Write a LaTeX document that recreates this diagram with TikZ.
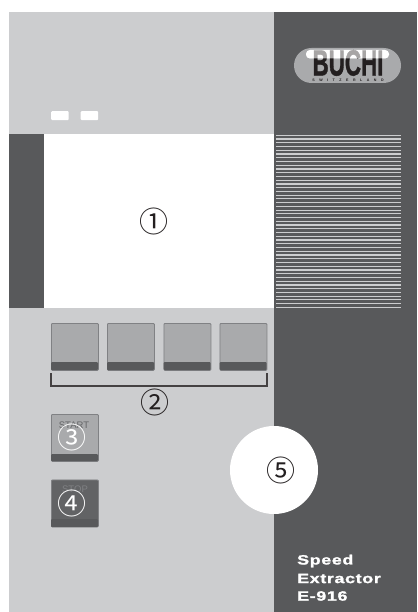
\documentclass[tikz,border=0pt]{standalone}
\usepackage{fontspec}
\setmainfont{Liberation Sans}
\newfontfamily\numfont{Noto Sans CJK JP}
\newfontfamily\widefont[LetterSpace=5,FakeStretch=1.32,FakeBold=1.6]{Liberation Sans Bold}
\newfontfamily\logofont[FakeBold=1.5]{Liberation Sans Bold}
\definecolor{panelL}{HTML}{CCCDCF}
\definecolor{panelD}{HTML}{58595B}
\definecolor{btn}{HTML}{A9AAAC}
\definecolor{btnD}{HTML}{626365}
\definecolor{btnE}{HTML}{808184}
\definecolor{ink}{HTML}{231F20}
\tikzset{
  num/.style={inner sep=0pt,font=\numfont\fontsize{29}{29}\selectfont,text=ink},
  numw/.style={num,text=white},
  keybox/.style={draw=btnE,line width=.8pt,rounded corners=1pt,fill=btn,minimum width=47pt,minimum height=47pt,inner sep=0pt,anchor=north west},
  keystrip/.style={fill=panelD,rounded corners=1pt},
  keylabel/.style={inner sep=0pt,font=\fontsize{9.5}{9.5}\selectfont},
  led/.style={fill=white,rounded corners=1pt,minimum width=17.5pt,minimum height=9pt,inner sep=0pt,anchor=north west}
}
\begin{document}
\begin{tikzpicture}[x=1pt,y=-1pt]
\useasboundingbox (0,0) rectangle (417,612);
\fill[white] (0,0) rectangle (417,612);
% panels
\fill[panelL] (9,12) rectangle (274,612);
\fill[panelD] (274,12) rectangle (417,612);
\fill[panelD] (9,134) rectangle (44,308);
\fill[white] (44,134) rectangle (274,308);
% LEDs
\node[led] (ledA) at (51,111) {};
\node[led] (ledB) at (80.5,111) {};
% vent lines
\foreach \i in {0,...,46} {
  \fill[panelL] (276,{135.3+\i*3.74-.6}) rectangle (401,{135.3+\i*3.74+.6});
}
% logo
\fill[btn] (294,48) [rounded corners=17.5pt] rectangle (401,83);
\fill[white,rounded corners=4pt] (306,50) rectangle (389,58.5);
\node[inner sep=0pt,xscale=.83,yscale=1.34,text=ink] (logo) at (348,63) {\fontsize{27}{27}\selectfont\logofont BUCHI};
\fill[white,opacity=.6,rounded corners=4pt] (306,50) rectangle (389,58.5);
\node[inner sep=0pt,text=ink] (swiss) at (348,80) {\fontsize{3.6}{4}\selectfont\bfseries\addfontfeature{LetterSpace=125}SWITZERLAND};
% circles
\node[circle,fill=white,minimum size=88pt,inner sep=0pt] (big) at (274,470) {};
\node[num] (n1) at (154,221) {①};
\node[num] (n5) at (281,470) {⑤};
% key row
\foreach \x/\n in {51/a,107/b,163.5/c,219.5/d} {
  \node[keybox] (k\n) at (\x,323) {};
  \fill[keystrip] (\x,362) rectangle ({\x+47},370);
}
% bracket
\coordinate (bl) at (51,373);
\coordinate (br) at (267,373);
\draw[ink!85,line width=1.3pt] (bl) -- ++(0,13) -| (br);
\node[num] (n2) at (155,402) {②};
% start
\node[keybox] (start) at (51,414) {};
\fill[keystrip] (51,454) rectangle (98,461);
\node[keylabel,text=panelD!85!btn] (startT) at (74,425) {START};
\node[numw] (n3) at (72,437) {③};
% stop
\node[keybox,fill=btnD] (stop) at (51,479.5) {};
\fill[keystrip] (51,519) rectangle (98,527);
\node[keylabel,text=btnE] (stopT) at (75,489.5) {STOP};
\node[numw] (n4) at (72,503.5) {④};
% title
\node[inner sep=0pt,anchor=west,text=white] (t1) at (297,561) {\fontsize{13.5}{14}\selectfont\widefont Speed};
\node[inner sep=0pt,anchor=west,text=white] (t2) at (297,578.5) {\fontsize{13.5}{14}\selectfont\widefont Extractor};
\node[inner sep=0pt,anchor=west,text=white] (t3) at (297,596) {\fontsize{13.5}{14}\selectfont\widefont E-916};
\end{tikzpicture}
\end{document}
